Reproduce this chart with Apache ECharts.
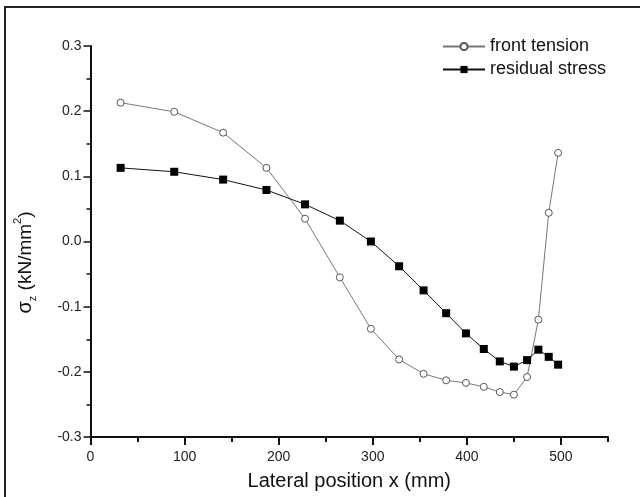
<!DOCTYPE html>
<html>
<head>
<meta charset="utf-8">
<script src="https://cdn.jsdelivr.net/npm/echarts@6/dist/echarts.min.js"></script>
<style>
html,body{margin:0;padding:0;background:#fff;}
#c{width:640px;height:497px;}
</style>
</head>
<body>
<div id="c"></div>
<script>
const xPos = [32, 89, 141, 187, 228, 265, 298, 328, 354, 378, 399, 418, 435, 450, 464, 476, 487, 497];
const frontTension = [0.213, 0.199, 0.167, 0.113, 0.035, -0.055, -0.134, -0.181, -0.203, -0.213, -0.217, -0.223, -0.231, -0.235, -0.208, -0.120, 0.044, 0.136];
const residualStress = [0.113, 0.107, 0.095, 0.079, 0.057, 0.032, 0.000, -0.038, -0.075, -0.110, -0.141, -0.165, -0.184, -0.192, -0.182, -0.166, -0.177, -0.189];
const xMajorTicks = [0, 100, 200, 300, 400, 500];
const xMinorTicks = [50, 150, 250, 350, 450, 550];
const seriesNames = ['front tension', 'residual stress'];
const yMin = -0.3, yMax = 0.3;

const font = 'Liberation Sans, Arial, sans-serif';
const chart = echarts.init(document.getElementById('c'), null, {renderer: 'canvas'});
const pairs = (ys) => xPos.map((x, i) => [x, ys[i]]);
const tickSeries = (name, vals, len) => ({
  name: name,
  type: 'custom',
  silent: true,
  clip: false,
  z: 10,
  data: vals.map((v) => [v, yMin]),
  encode: {x: 0, y: 1},
  renderItem: (params, api) => {
    const p = api.coord([api.value(0), api.value(1)]);
    return {
      type: 'rect',
      z2: 100,
      shape: {x: Math.round(p[0]) - 1, y: p[1], width: 2, height: len},
      style: {fill: '#111'}
    };
  }
});

chart.setOption({
  animation: false,
  backgroundColor: '#fff',
  graphic: [{
    type: 'rect',
    shape: {x: 5, y: 7, width: 640, height: 500},
    style: {fill: 'none', stroke: '#222', lineWidth: 2},
    silent: true,
    z: -10
  }],
  grid: {left: 90.5, right: 32, top: 46, bottom: 60, containLabel: false},
  legend: {
    orient: 'vertical',
    left: 437,
    top: 31,
    itemWidth: 42,
    itemHeight: 9,
    itemGap: 2,
    textStyle: {fontFamily: font, fontSize: 18, color: '#111', lineHeight: 21},
    data: seriesNames
  },
  xAxis: {
    type: 'value',
    min: 0, max: 550, interval: 50,
    name: 'Lateral position x (mm)',
    nameLocation: 'middle',
    nameGap: 34,
    nameTextStyle: {fontFamily: font, fontSize: 20, color: '#111'},
    axisLine: {show: true, onZero: false, lineStyle: {color: '#111', width: 2}},
    axisTick: {show: true, inside: false, length: 5, lineStyle: {color: '#111', width: 1.5}},
    axisLabel: {show: true, margin: 13, fontFamily: font, fontSize: 14, color: '#222',
      formatter: (v) => (xMajorTicks.indexOf(v) >= 0 ? String(v) : '')},
    splitLine: {show: false}
  },
  yAxis: {
    type: 'value',
    min: yMin, max: yMax, interval: 0.1,
    name: '{s|σ}{z|z}{t| (kN/mm}{p|2}{t|)}',
    nameLocation: 'middle',
    nameGap: 52,
    nameRotate: 90,
    nameTextStyle: {
      fontFamily: font, fontSize: 19, color: '#111',
      padding: [0, 42, 0, 0],
      rich: {
        s: {fontFamily: font, fontSize: 20, color: '#111', lineHeight: 26, verticalAlign: 'middle'},
        t: {fontFamily: font, fontSize: 19, color: '#111', lineHeight: 26, verticalAlign: 'middle'},
        z: {fontFamily: font, fontSize: 11, color: '#111', lineHeight: 26, verticalAlign: 'bottom'},
        p: {fontFamily: font, fontSize: 11, color: '#111', lineHeight: 26, verticalAlign: 'top'}
      }
    },
    axisLine: {show: true, onZero: false, lineStyle: {color: '#111', width: 2}},
    axisTick: {show: true, inside: false, length: 7, lineStyle: {color: '#111', width: 1.5}},
    minorTick: {show: true, splitNumber: 2, length: 4, lineStyle: {color: '#111', width: 1.5}},
    axisLabel: {margin: 9, fontFamily: font, fontSize: 14, color: '#222', formatter: (v) => v.toFixed(1)},
    splitLine: {show: false}
  },
  series: [{
    name: seriesNames[0],
    type: 'line',
    data: pairs(frontTension),
    symbol: 'circle',
    symbolSize: 7,
    lineStyle: {color: '#777', width: 1},
    itemStyle: {color: '#fff', borderColor: '#555', borderWidth: 1},
    emphasis: {disabled: true}
  }, {
    name: seriesNames[1],
    type: 'line',
    data: pairs(residualStress),
    symbol: 'rect',
    symbolSize: 8,
    lineStyle: {color: '#111', width: 1},
    itemStyle: {color: '#000'},
    emphasis: {disabled: true}
  }, tickSeries('majorTicks', xMajorTicks, 8), tickSeries('minorTicks', xMinorTicks, 5)]
});
</script>
</body>
</html>
